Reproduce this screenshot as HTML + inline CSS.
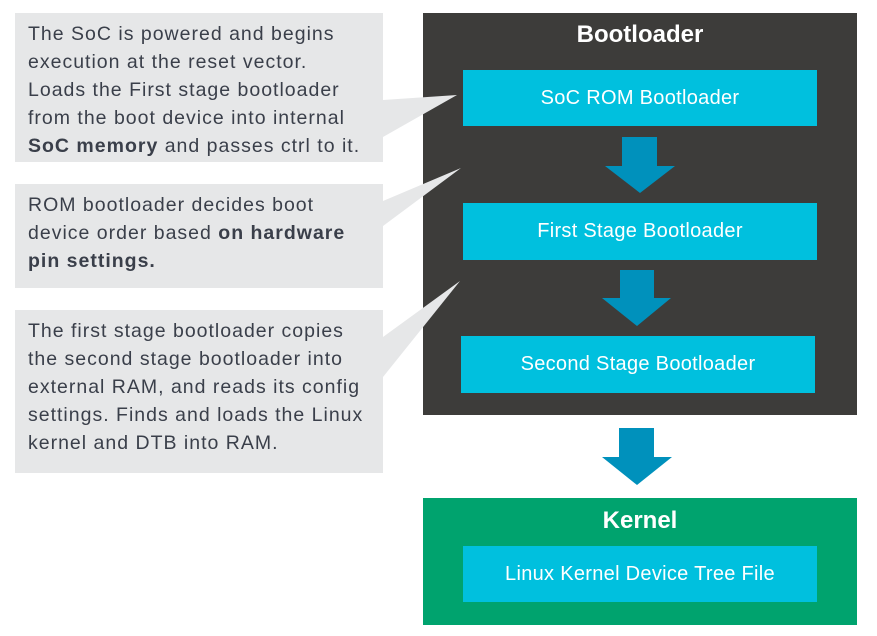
<!DOCTYPE html>
<html><head><meta charset="utf-8"><style>
body{margin:0;background:#fff;width:877px;height:636px;overflow:hidden;font-family:"Liberation Sans",sans-serif}
.g{position:absolute;left:15px;width:368px;background:#e6e7e8}
.t{position:absolute;left:28px;color:#3a3f4a;font-size:19.5px;line-height:28px;letter-spacing:1px;white-space:nowrap}
.b{position:absolute;background:#00c0de;color:#fff;font-size:20px;letter-spacing:0.3px;display:flex;align-items:center;justify-content:center}
.h{position:absolute;color:#fff;font-weight:bold;font-size:24px;text-align:center}
</style></head><body>
<div class="g" style="top:13px;height:149px"></div>
<div class="g" style="top:184px;height:104px"></div>
<div class="g" style="top:310px;height:163px"></div>
<div style="position:absolute;left:423px;top:13px;width:434px;height:402px;background:#3d3c3a"></div>
<div style="position:absolute;left:423px;top:498px;width:434px;height:127px;background:#00a36e"></div>
<svg width="877" height="636" style="position:absolute;left:0;top:0">
<polygon points="383,100 457,95 383,137" fill="#e6e7e8"/>
<polygon points="383,201 461,168 383,226" fill="#e6e7e8"/>
<polygon points="383,337 460,281 383,377" fill="#e6e7e8"/>
<polygon points="622,137 657,137 657,166 675,166 640,193 605,166 622,166" fill="#0091bc"/>
<polygon points="620,270 654,270 654,298 671,298 637,326 602,298 620,298" fill="#0091bc"/>
<polygon points="619,428 654,428 654,457 672,457 637,485 602,457 619,457" fill="#0091bc"/>
</svg>
<div class="t" style="top:20px">The SoC is powered and begins<br>execution at the reset vector.<br>Loads the First stage bootloader<br>from the boot device into internal<br><b>SoC memory</b> and passes ctrl to it.</div>
<div class="t" style="top:191px">ROM bootloader decides boot<br>device order based <b>on hardware<br>pin settings.</b></div>
<div class="t" style="top:317px">The first stage bootloader copies<br>the second stage bootloader into<br>external RAM, and reads its config<br>settings. Finds and loads the Linux<br>kernel and DTB into RAM.</div>
<div class="h" style="left:423px;width:434px;top:21px">Bootloader</div>
<div class="h" style="left:423px;width:434px;top:507px">Kernel</div>
<div class="b" style="left:463px;top:70px;width:354px;height:56px">SoC ROM Bootloader</div>
<div class="b" style="left:463px;top:203px;width:354px;height:57px">First Stage Bootloader</div>
<div class="b" style="left:461px;top:336px;width:354px;height:57px">Second Stage Bootloader</div>
<div class="b" style="left:463px;top:546px;width:354px;height:56px">Linux Kernel Device Tree File</div>
</body></html>
